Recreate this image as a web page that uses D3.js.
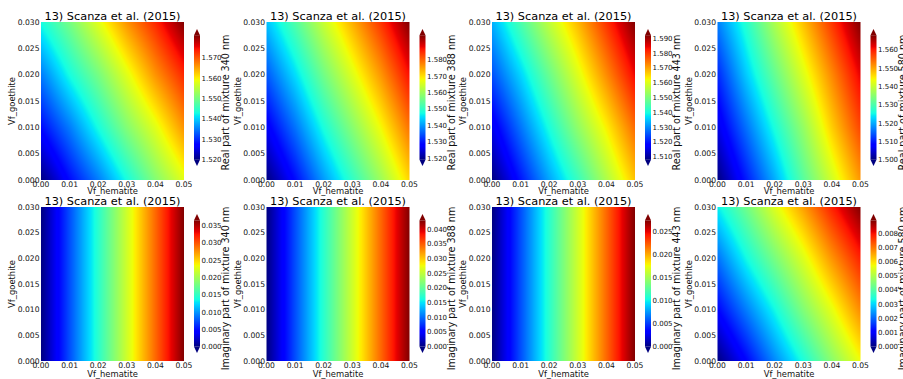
<!DOCTYPE html>
<html><head><meta charset="utf-8">
<script src="https://cdn.jsdelivr.net/npm/d3@7"></script>
<style>
body{margin:0;background:#fff;}
svg{display:block;font-family:"DejaVu Sans",sans-serif;}
</style>
</head><body><div id="chart"></div>
<script>
// ---------- data ----------
const xNodes = [0, 0.01, 0.02, 0.03, 0.04, 0.05];          // Vf_hematite
const yNodes = [0, 0.01, 0.02, 0.03];                      // Vf_goethite
const xTicks = [0, 0.01, 0.02, 0.03, 0.04, 0.05];
const yTicks = [0, 0.005, 0.01, 0.015, 0.02, 0.025, 0.03];

const titles = ["13) Scanza et al. (2015)","13) Scanza et al. (2015)","13) Scanza et al. (2015)","13) Scanza et al. (2015)",
                "13) Scanza et al. (2015)","13) Scanza et al. (2015)","13) Scanza et al. (2015)","13) Scanza et al. (2015)"];
const cbarLabels = ["Real part of mixture 340 nm","Real part of mixture 388 nm","Real part of mixture 443 nm","Real part of mixture 580 nm",
                    "Imaginary part of mixture 340 nm","Imaginary part of mixture 388 nm","Imaginary part of mixture 443 nm","Imaginary part of mixture 580 nm"];
const cbarTicks = [
  [1.52,1.53,1.54,1.55,1.56,1.57],
  [1.52,1.53,1.54,1.55,1.56,1.57,1.58],
  [1.51,1.52,1.53,1.54,1.55,1.56,1.57,1.58,1.59],
  [1.50,1.51,1.52,1.53,1.54,1.55,1.56],
  [0,0.005,0.01,0.015,0.02,0.025,0.03,0.035],
  [0,0.005,0.01,0.015,0.02,0.025,0.03,0.035,0.04],
  [0,0.005,0.01,0.015,0.02,0.025],
  [0,0.001,0.002,0.003,0.004,0.005,0.006,0.007,0.008]
];
// grid values: rows = yNodes (bottom to top), cols = xNodes
const real340 = [
  [1.520,1.528,1.535,1.543,1.551,1.558],
  [1.528,1.535,1.543,1.551,1.558,1.566],
  [1.535,1.543,1.550,1.558,1.566,1.573],
  [1.543,1.550,1.558,1.566,1.573,1.581]];
const real388 = [
  [1.519,1.529,1.540,1.550,1.560,1.571],
  [1.527,1.537,1.548,1.558,1.568,1.579],
  [1.535,1.545,1.556,1.566,1.576,1.587],
  [1.543,1.553,1.564,1.574,1.584,1.595]];
const real443 = [
  [1.508,1.520,1.532,1.543,1.555,1.567],
  [1.516,1.528,1.540,1.552,1.563,1.575],
  [1.525,1.536,1.548,1.560,1.572,1.584],
  [1.533,1.545,1.557,1.568,1.580,1.592]];
const real580 = [
  [1.500,1.510,1.520,1.531,1.541,1.551],
  [1.506,1.516,1.526,1.536,1.547,1.557],
  [1.511,1.522,1.532,1.542,1.552,1.562],
  [1.517,1.527,1.538,1.548,1.558,1.568]];
const imag340 = [
  [0,0.0073,0.0146,0.0219,0.0292,0.0365],
  [0,0.0073,0.0146,0.0219,0.0292,0.0365],
  [0,0.0073,0.0146,0.0219,0.0292,0.0365],
  [0,0.0073,0.0146,0.0219,0.0292,0.0365]];
const imag388 = [
  [0,0.0086,0.0172,0.0258,0.0344,0.0430],
  [0,0.0086,0.0172,0.0258,0.0344,0.0430],
  [0,0.0086,0.0172,0.0258,0.0344,0.0430],
  [0,0.0086,0.0172,0.0258,0.0344,0.0430]];
const imag443 = [
  [0,0.0055,0.0110,0.0165,0.0220,0.0275],
  [0,0.0055,0.0110,0.0165,0.0220,0.0275],
  [0,0.0055,0.0110,0.0165,0.0220,0.0275],
  [0,0.0055,0.0110,0.0165,0.0220,0.0275]];
const imag580 = [
  [0.0000,0.0011,0.0023,0.0034,0.0046,0.0057],
  [0.0011,0.0022,0.0033,0.0045,0.0056,0.0068],
  [0.0021,0.0033,0.0044,0.0055,0.0067,0.0078],
  [0.0032,0.0043,0.0055,0.0066,0.0078,0.0089]];
const grids = [real340, real388, real443, real580, imag340, imag388, imag443, imag580];

// ---------- layout ----------
const Wd = 903, Ht = 379;
const colLeft = [41, 266.5, 492, 717.5];
const rowTop = [22, 207];
const rowH = [158, 154];
const xlabOff = [13.5, 16];
const PW = 143;
const cbOff = 153, cbW = 6;
const cbTip = [[29,166],[214,353]];

// jet colormap (matplotlib segment data)
const jr = d3.scaleLinear().domain([0,0.35,0.66,0.89,1]).range([0,0,1,1,0.5]).clamp(true);
const jg = d3.scaleLinear().domain([0,0.125,0.375,0.64,0.91,1]).range([0,0,1,1,0,0]).clamp(true);
const jb = d3.scaleLinear().domain([0,0.11,0.34,0.65,1]).range([0.5,1,1,0,0]).clamp(true);
const jet = t => [Math.round(jr(t)*255), Math.round(jg(t)*255), Math.round(jb(t)*255)];
const jetCss = t => { const c = jet(t); return `rgb(${c[0]},${c[1]},${c[2]})`; };
const jetStops = [0,0.11,0.125,0.34,0.35,0.375,0.64,0.65,0.66,0.89,0.91,1];

const svg = d3.select("#chart").append("svg").attr("width", Wd).attr("height", Ht);
const defs = svg.append("defs");
const grad = defs.append("linearGradient").attr("id","jetgrad")
  .attr("x1",0).attr("y1",1).attr("x2",0).attr("y2",0);
jetStops.forEach(s => grad.append("stop").attr("offset", s).attr("stop-color", jetCss(s)));

const fmt3 = d3.format(".3f"), fmt2 = d3.format(".2f");
const txt = "#111";

grids.forEach((grid, k) => {
  const r = Math.floor(k/4), c = k % 4;
  const left = colLeft[c], top = rowTop[r], h = rowH[r];
  const x = d3.scaleLinear().domain([0,0.05]).range([left, left+PW]);
  const y = d3.scaleLinear().domain([0,0.03]).range([top+h, top]);
  const flat = grid.flat();
  const [vmin, vmax] = d3.extent(flat);
  const norm = d3.scaleLinear().domain([vmin, vmax]).range([0,1]).clamp(true);
  const gx = d3.scaleLinear().domain(xNodes).range(d3.range(xNodes.length)).clamp(true);
  const gy = d3.scaleLinear().domain(yNodes).range(d3.range(yNodes.length)).clamp(true);

  // heatmap raster
  const cw = Math.round(PW), ch = Math.round(h);
  const canvas = document.createElement("canvas");
  canvas.width = cw; canvas.height = ch;
  const ctx = canvas.getContext("2d");
  const img = ctx.createImageData(cw, ch);
  for (let j = 0; j < ch; j++) {
    const yv = y.invert(top + (j+0.5)*h/ch);
    const fy = gy(yv), y0 = Math.min(Math.floor(fy), yNodes.length-2), ty = fy - y0;
    for (let i = 0; i < cw; i++) {
      const xv = x.invert(left + (i+0.5)*PW/cw);
      const fx = gx(xv), x0 = Math.min(Math.floor(fx), xNodes.length-2), tx = fx - x0;
      const v = (1-ty)*((1-tx)*grid[y0][x0] + tx*grid[y0][x0+1]) + ty*((1-tx)*grid[y0+1][x0] + tx*grid[y0+1][x0+1]);
      const col = jet(norm(v));
      const p = (j*cw + i)*4;
      img.data[p] = col[0]; img.data[p+1] = col[1]; img.data[p+2] = col[2]; img.data[p+3] = 255;
    }
  }
  ctx.putImageData(img, 0, 0);
  svg.append("image").attr("x", left).attr("y", top).attr("width", PW).attr("height", h)
    .attr("preserveAspectRatio","none").attr("href", canvas.toDataURL());

  const g = svg.append("g");
  // title
  g.append("text").attr("x", left+PW/2).attr("y", top-2.5).attr("text-anchor","middle")
    .attr("font-size", 11.3).attr("fill","#000").text(titles[k]);
  // axis tick labels
  g.selectAll(".xt").data(xTicks).enter().append("text")
    .attr("x", d => x(d)).attr("y", top+h+6.5).attr("text-anchor","middle")
    .attr("font-size", 7.6).attr("fill",txt).text(d => fmt2(d));
  g.selectAll(".yt").data(yTicks).enter().append("text")
    .attr("x", left-1.5).attr("y", d => y(d)+2.7).attr("text-anchor","end")
    .attr("font-size", 7.6).attr("fill",txt).text(d => fmt3(d));
  g.append("text").attr("x", left+PW/2).attr("y", top+h+xlabOff[r]).attr("text-anchor","middle")
    .attr("font-size", 8.4).attr("fill",txt).text("Vf_hematite");
  g.append("text").attr("transform", `translate(${left-26},${top+h/2}) rotate(-90)`)
    .attr("text-anchor","middle").attr("font-size", 8.4).attr("fill",txt).text("Vf_goethite");

  // colorbar
  const [tTop, tBot] = cbTip[r];
  const ext = (tBot - tTop)/1.1*0.05;
  const iTop = tTop + ext, iBot = tBot - ext;
  const cx0 = left + cbOff;
  const cs = d3.scaleLinear().domain([vmin, vmax]).range([iBot, iTop]);
  g.append("rect").attr("x", cx0).attr("y", iTop).attr("width", cbW).attr("height", iBot-iTop)
    .attr("fill","url(#jetgrad)");
  g.append("path").attr("d", `M${cx0},${iTop}L${cx0+cbW/2},${tTop}L${cx0+cbW},${iTop}Z`).attr("fill", jetCss(1));
  g.append("path").attr("d", `M${cx0},${iBot}L${cx0+cbW/2},${tBot}L${cx0+cbW},${iBot}Z`).attr("fill", jetCss(0));
  g.selectAll(".ct").data(cbarTicks[k]).enter().append("text")
    .attr("x", cx0+cbW+1.5).attr("y", d => cs(d)+2.5).attr("font-size", 7)
    .attr("fill",txt).text(d => fmt3(d));
  g.append("text").attr("transform", `translate(${left+188},${(tTop+tBot)/2+5}) rotate(-90)`)
    .attr("text-anchor","middle").attr("font-size", 9.6).attr("fill",txt).text(cbarLabels[k]);
});
</script>
</body></html>
